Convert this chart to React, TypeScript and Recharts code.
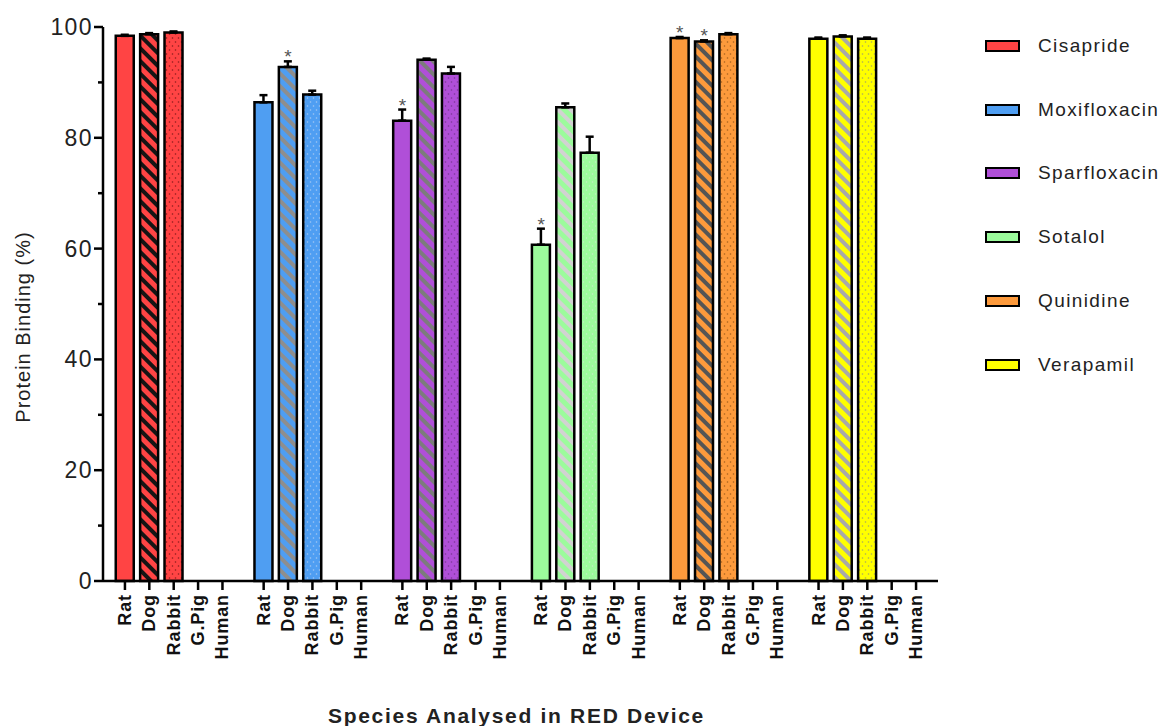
import { ComposedChart, Bar, Cell, ErrorBar, Scatter, XAxis, YAxis } from "recharts";

const SPECIES = ["Rat", "Dog", "Rabbit", "G.Pig", "Human"];
const DRUGS = ["Cisapride", "Moxifloxacin", "Sparfloxacin", "Sotalol", "Quinidine", "Verapamil"];

const DRUG_COLORS = ["#ff4444", "#4f9ef2", "#b04fd8", "#9cfb9c", "#fd9a3c", "#ffff00"];
const STRIPE_COLORS = ["#151515", "#8e8e8e", "#7c7c7c", "#d2d2d2", "#555555", "#a9a9a9"];
const DOT_COLORS = ["#8a1c1c", "#a3c8f2", "#7a3696", "#c4efc4", "#a4601c", "#a8a860"];

// protein binding (%) for Rat, Dog, Rabbit (G.Pig and Human were not run)
const CISAPRIDE = [98.4, 98.7, 99.0];
const MOXIFLOXACIN = [86.4, 92.8, 87.8];
const SPARFLOXACIN = [83.1, 94.1, 91.6];
const SOTALOL = [60.7, 85.5, 77.3];
const QUINIDINE = [98.0, 97.4, 98.7];
const VERAPAMIL = [97.9, 98.3, 97.9];
const BINDING = [CISAPRIDE, MOXIFLOXACIN, SPARFLOXACIN, SOTALOL, QUINIDINE, VERAPAMIL];

// upper error (SEM)
const SEM = [
  [0.2, 0.2, 0.2],
  [1.3, 1.0, 0.7],
  [2.0, 0.2, 1.2],
  [2.9, 0.7, 2.9],
  [0.2, 0.2, 0.2],
  [0.2, 0.2, 0.2],
];

// species index marked with * per drug
const SIGNIFICANT = [[], [1], [0], [0], [0, 1], []];

const Y_TICKS = [0, 10, 20, 30, 40, 50, 60, 70, 80, 90, 100];

const FONT = "'Liberation Sans', Arial, sans-serif";
const GROUP_GAP = 0.69;
const slot = (g: number, s: number) => g * (SPECIES.length + GROUP_GAP) + s;

const rows = DRUGS.flatMap((_, g) =>
  BINDING[g].map((v, s) => ({ x: slot(g, s), value: v, err: [0, SEM[g][s]], g, s }))
);
const starRows = rows
  .filter((r) => SIGNIFICANT[r.g].includes(r.s))
  .map((r) => ({ x: r.x, top: r.value + r.err[1] }));
const xTicks = DRUGS.flatMap((_, g) => SPECIES.map((_, s) => slot(g, s)));
const xDomain = [-0.9, slot(DRUGS.length - 1, SPECIES.length - 1) + 0.9];

const fillFor = (g: number, s: number) =>
  s === 0 ? DRUG_COLORS[g] : s === 1 ? `url(#dog-${g})` : `url(#rabbit-${g})`;

function SpeciesTick(props: any) {
  const { x, y, payload } = props;
  let i = 0;
  let best = Infinity;
  xTicks.forEach((t, k) => {
    if (Math.abs(t - payload.value) < best) {
      best = Math.abs(t - payload.value);
      i = k;
    }
  });
  const label = SPECIES[i % SPECIES.length];
  return (
    <g>
      <line x1={x} x2={x} y1={y - 13} y2={y - 4} stroke="#000" strokeWidth={2.5} />
      <text
        x={x}
        y={y}
        transform={`rotate(-90 ${x} ${y})`}
        textAnchor="end"
        dominantBaseline="central"
        fontFamily={FONT}
        fontSize={18}
        fontWeight="bold"
        letterSpacing={0.9}
        fill="#111"
      >
        {label}
      </text>
    </g>
  );
}

function BindingTick(props: any) {
  const { x, y, payload } = props;
  const major = payload.value % 20 === 0;
  const axisX = x + 11;
  return (
    <g>
      <line x1={axisX - (major ? 9 : 5)} x2={axisX} y1={y} y2={y} stroke="#000" strokeWidth={2.5} />
      {major && (
        <text
          x={x + 1}
          y={y}
          textAnchor="end"
          dominantBaseline="central"
          fontFamily={FONT}
          fontSize={23}
          letterSpacing={1.4}
          fill="#222"
        >
          {payload.value}
        </text>
      )}
    </g>
  );
}

function Star(props: any) {
  const { cx, cy } = props;
  return (
    <text x={cx} y={cy + 2} textAnchor="middle" fontFamily={FONT} fontSize={19} fill="#555">
      *
    </text>
  );
}

export default function App() {
  return (
    <div
      style={{
        position: "absolute",
        left: 0,
        top: 0,
        width: 1163,
        height: 726,
        background: "#fff",
        fontFamily: FONT,
      }}
    >
      <ComposedChart
        width={1163}
        height={726}
        data={rows}
        margin={{ top: 27, right: 225, bottom: 0, left: 0 }}
      >
        <defs>
          {DRUGS.map((d, i) => (
            <pattern
              key={`dog-${d}`}
              id={`dog-${i}`}
              patternUnits="userSpaceOnUse"
              width={9}
              height={9}
              patternTransform="rotate(-45)"
            >
              <rect width={9} height={9} fill={DRUG_COLORS[i]} />
              <rect width={4} height={9} fill={STRIPE_COLORS[i]} />
            </pattern>
          ))}
          {DRUGS.map((d, i) => (
            <pattern key={`rabbit-${d}`} id={`rabbit-${i}`} patternUnits="userSpaceOnUse" width={6} height={8}>
              <rect width={6} height={8} fill={DRUG_COLORS[i]} />
              <circle cx={1.5} cy={2} r={0.8} fill={DOT_COLORS[i]} />
              <circle cx={4.5} cy={6} r={0.8} fill={DOT_COLORS[i]} />
            </pattern>
          ))}
        </defs>
        <XAxis
          type="number"
          dataKey="x"
          domain={xDomain}
          ticks={xTicks}
          interval={0}
          height={145}
          tickSize={0}
          tickMargin={13}
          tickLine={false}
          tick={<SpeciesTick />}
          axisLine={{ stroke: "#000", strokeWidth: 2.5 }}
          label={{
            content: (p: any) => (
              <text
                x={p.viewBox.x + p.viewBox.width / 2 - 4}
                y={715}
                textAnchor="middle"
                dominantBaseline="central"
                fontFamily={FONT}
                fontSize={21}
                fontWeight="bold"
                letterSpacing={1.7}
                fill="#222"
              >
                Species Analysed in RED Device
              </text>
            ),
          }}
        />
        <YAxis
          type="number"
          domain={[0, 100]}
          ticks={Y_TICKS}
          interval={0}
          width={103}
          tickSize={0}
          tickMargin={11}
          tickLine={false}
          tick={<BindingTick />}
          axisLine={{ stroke: "#000", strokeWidth: 2.5 }}
          label={{
            content: (p: any) => {
              const cx = 23;
              const cy = p.viewBox.y + p.viewBox.height / 2 + 23;
              return (
                <text
                  x={cx}
                  y={cy}
                  transform={`rotate(-90 ${cx} ${cy})`}
                  textAnchor="middle"
                  dominantBaseline="central"
                  fontFamily={FONT}
                  fontSize={20}
                  letterSpacing={1}
                  fill="#222"
                >
                  Protein Binding (%)
                </text>
              );
            },
          }}
        />
        <Bar dataKey="value" barSize={18} stroke="#000" strokeWidth={2.5} isAnimationActive={false}>
          {rows.map((r) => (
            <Cell key={`${r.g}-${r.s}`} fill={fillFor(r.g, r.s)} />
          ))}
          <ErrorBar dataKey="err" width={4} stroke="#000" strokeWidth={2.5} direction="y" />
        </Bar>
        <Scatter data={starRows} dataKey="top" shape={<Star />} isAnimationActive={false} />
      </ComposedChart>
      <div style={{ position: "absolute", left: 985, top: 14 }}>
        {DRUGS.map((d, i) => (
          <div key={d} style={{ height: 63.8, display: "flex", alignItems: "center" }}>
            <div
              style={{
                width: 31,
                height: 8,
                border: "2.5px solid #000",
                background: DRUG_COLORS[i],
                marginRight: 18,
              }}
            />
            <span style={{ fontSize: 19, letterSpacing: 1.4, color: "#222", whiteSpace: "nowrap" }}>{d}</span>
          </div>
        ))}
      </div>
    </div>
  );
}
